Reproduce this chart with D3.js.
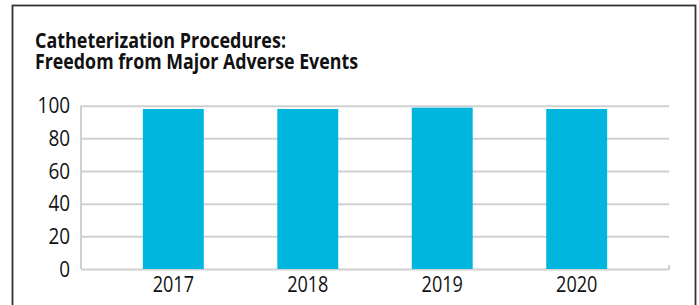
<!DOCTYPE html>
<html>
<head>
<meta charset="utf-8">
<script src="https://cdn.jsdelivr.net/npm/d3@7"></script>
<style>
  html, body { margin: 0; padding: 0; background: #fff; }
  svg { display: block; }
</style>
</head>
<body>
<svg id="chart" width="699" height="305"></svg>
<script>
const categories = ["2017", "2018", "2019", "2020"];
const values = [98, 98, 98.8, 98];
const yTicks = [0, 20, 40, 60, 80, 100];
const titleLines = ["Catheterization Procedures:", "Freedom from Major Adverse Events"];

const svg = d3.select("#chart");
const FONT = "'Open Sans', sans-serif";

// horizontally condense text to mimic a narrow humanist face
function condense(sel, factor) {
  sel.each(function () {
    const len = this.getComputedTextLength();
    d3.select(this).attr("textLength", len * factor).attr("lengthAdjust", "spacingAndGlyphs");
  });
}

// outer frame
svg.append("rect")
  .attr("x", 12.5).attr("y", 5.5)
  .attr("width", 683).attr("height", 310)
  .attr("fill", "none").attr("stroke", "#333").attr("stroke-width", 1.8);

// title
const title = svg.append("g")
  .attr("font-family", FONT)
  .attr("font-weight", 700)
  .attr("font-size", 21)
  .attr("fill", "#111");
titleLines.forEach((t, i) => {
  title.append("text").attr("x", 35).attr("y", 47.5 + i * 21).text(t);
});
title.selectAll("text").each(function (d, i) {
  // fit each line to the reference line width
  const target = [251, 323][i];
  d3.select(this).attr("textLength", target).attr("lengthAdjust", "spacingAndGlyphs");
});

const plot = { left: 81, right: 669, top: 105.7, bottom: 269 };

const x = d3.scaleBand()
  .domain(categories)
  .range([plot.left, plot.right])
  .paddingInner(0.547)
  .paddingOuter(0.46);

const y = d3.scaleLinear()
  .domain([0, 100])
  .range([plot.bottom, plot.top]);

// gridlines
const grid = svg.append("g")
  .attr("transform", `translate(${plot.left},0)`)
  .call(d3.axisLeft(y).tickValues(yTicks).tickSize(-(plot.right - plot.left)).tickFormat(""));
grid.select(".domain").remove();
grid.selectAll(".tick line").attr("stroke", "#d0d0d0").attr("stroke-width", 2);

// left axis line
svg.append("line")
  .attr("x1", plot.left).attr("x2", plot.left)
  .attr("y1", y(100)).attr("y2", y(0))
  .attr("stroke", "#d0d0d0").attr("stroke-width", 2);
// right end tick at 0
svg.append("line")
  .attr("x1", plot.right).attr("x2", plot.right)
  .attr("y1", y(0) - 4).attr("y2", y(0) + 1)
  .attr("stroke", "#d0d0d0").attr("stroke-width", 2);

// y tick labels
const yAxis = svg.append("g")
  .attr("transform", `translate(70,0)`)
  .call(d3.axisLeft(y).tickValues(yTicks).tickSize(0).tickPadding(0));
yAxis.select(".domain").remove();
yAxis.selectAll("text")
  .attr("font-family", FONT)
  .attr("font-size", 21)
  .attr("fill", "#111")
  .attr("text-anchor", "end")
  .attr("dy", 0)
  .attr("y", 7);
condense(yAxis.selectAll("text"), 0.9);

// bars
svg.append("g").selectAll("rect")
  .data(categories.map((c, i) => ({ c, v: values[i] })))
  .join("rect")
  .attr("x", d => x(d.c))
  .attr("width", x.bandwidth())
  .attr("y", d => y(d.v))
  .attr("height", d => y(0) - y(d.v))
  .attr("fill", "#00B5DE");

// x labels
const xAxis = svg.append("g")
  .attr("transform", `translate(0,${plot.bottom})`)
  .call(d3.axisBottom(x).tickSize(0).tickPadding(0));
xAxis.select(".domain").remove();
xAxis.selectAll("text")
  .attr("font-family", FONT)
  .attr("font-size", 21)
  .attr("fill", "#111")
  .attr("dy", 0)
  .attr("y", 23.3);
condense(xAxis.selectAll("text"), 0.86);
</script>
</body>
</html>
